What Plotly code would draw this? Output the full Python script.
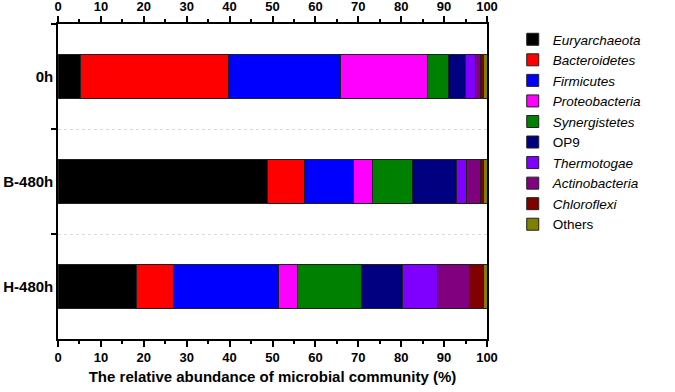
import plotly.graph_objects as go

samples = ["0h", "B-480h", "H-480h"]
phyla = ["Euryarchaeota", "Bacteroidetes", "Firmicutes", "Proteobacteria", "Synergistetes",
         "OP9", "Thermotogae", "Actinobacteria", "Chloroflexi", "Others"]
italic = [True, True, True, True, True, False, True, True, True, False]
colors = ["#000000", "#ff0000", "#0000ff", "#ff00ff", "#008000",
          "#000080", "#8000ff", "#800080", "#800000", "#808000"]

abundance = {
    "Euryarchaeota":  [5.3, 48.9, 18.3],
    "Bacteroidetes":  [34.5, 8.6, 8.6],
    "Firmicutes":     [26.0, 11.4, 24.6],
    "Proteobacteria": [20.4, 4.3, 4.3],
    "Synergistetes":  [4.9, 9.4, 14.9],
    "OP9":            [3.9, 10.3, 9.7],
    "Thermotogae":    [2.3, 2.3, 8.0],
    "Actinobacteria": [1.1, 3.3, 7.6],
    "Chloroflexi":    [0.7, 0.6, 3.1],
    "Others":         [0.9, 0.9, 0.9],
}
x_ticks = list(range(0, 101, 10))

FONT = "Liberation Sans, Arial, sans-serif"

fig = go.Figure()
for name, col, it in zip(phyla, colors, italic):
    fig.add_trace(go.Bar(
        y=samples, x=abundance[name], orientation="h",
        name=f"<i>{name}</i>" if it else name,
        marker=dict(color=col, line=dict(color="#202020", width=1)),
    ))
# invisible trace for the top axis
fig.add_trace(go.Scatter(x=[0, 100], y=[samples[0], samples[0]], xaxis="x2", mode="none",
                         showlegend=False, hoverinfo="skip"))

axis_common = dict(
    range=[0, 100], tickvals=x_ticks, ticks="outside", ticklen=6, tickwidth=1.5,
    tickcolor="black", showline=True, linecolor="black", linewidth=1.5,
    showgrid=False, zeroline=False, automargin=False,
    tickfont=dict(family=FONT, size=13, color="black", weight="bold"),
    minor=dict(dtick=5, ticks="outside", ticklen=3, tickwidth=1.5, tickcolor="black"),
)

fig.update_layout(
    width=675, height=392,
    barmode="stack", bargap=0.59,
    plot_bgcolor="white", paper_bgcolor="white",
    margin=dict(l=58, r=188, t=24, b=53),
    font=dict(family=FONT, color="black"),
    xaxis=dict(**axis_common, side="bottom",
               title=dict(text="The relative abundance of microbial community (%)",
                          font=dict(family=FONT, size=15, color="black", weight="bold"),
                          standoff=7)),
    xaxis2=dict(**axis_common, side="top", overlaying="x", anchor="y"),
    yaxis=dict(categoryorder="array", categoryarray=samples, autorange="reversed",
               tickson="boundaries", ticks="outside", ticklen=5, tickwidth=1.5, tickcolor="black",
               showline=True, linecolor="black", linewidth=1.5, mirror=True, automargin=False,
               showgrid=True, gridcolor="#dadada", griddash="dot", gridwidth=1,
               tickfont=dict(family=FONT, size=15, color="black", weight="bold")),
    legend=dict(x=1.06, y=1.0, xanchor="left", yanchor="top", traceorder="normal",
                font=dict(family=FONT, size=13.5, color="black"), tracegroupgap=0,
                itemwidth=30, bgcolor="rgba(0,0,0,0)"),
)

fig.write_html("out.html", config={"displayModeBar": False})

# remove the default page margin so the figure sits at the window origin
with open("out.html", "r", encoding="utf-8") as f:
    html = f.read()
html = html.replace("<body>", '<body style="margin:0;overflow:hidden">', 1)
with open("out.html", "w", encoding="utf-8") as f:
    f.write(html)
